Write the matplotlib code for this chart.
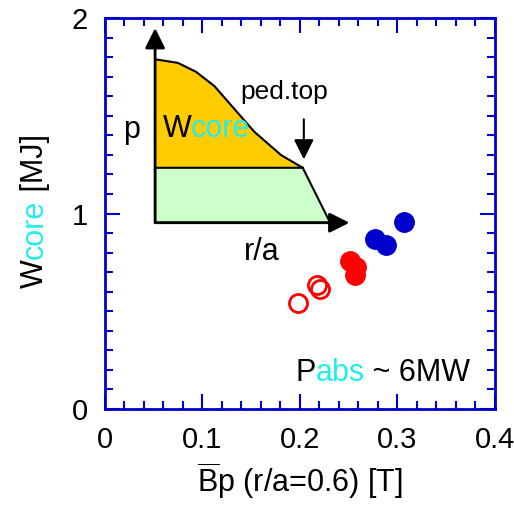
import matplotlib
matplotlib.use('Agg')
import matplotlib.pyplot as plt

plt.rcParams['font.family'] = ['Liberation Sans', 'DejaVu Sans']
plt.rcParams['mathtext.fontset'] = 'custom'
plt.rcParams['mathtext.rm'] = 'Liberation Sans'

# measured points
bp_blue = [0.307, 0.277, 0.288]
w_blue = [0.958, 0.868, 0.840]
bp_red = [0.2515, 0.258, 0.256]
w_red = [0.759, 0.728, 0.685]
bp_open = [0.1985, 0.2176, 0.2207]
w_open = [0.540, 0.634, 0.612]

# inset sketch: pressure profile above the pedestal
prof_x = [0.0515, 0.0747, 0.0935, 0.1123, 0.1277, 0.1533, 0.1807, 0.2029]
prof_y = [1.789, 1.771, 1.725, 1.652, 1.564, 1.418, 1.299, 1.234]
ped_x = [0.0515, 0.2029, 0.231, 0.0515]
ped_y = [1.234, 1.234, 0.953, 0.953]

BLUE = '#0000cc'
CYAN = '#22eeee'
FS = 22

fig = plt.figure(figsize=(5.14, 5.09), dpi=100)
ax = fig.add_axes([0.204, 0.1965, 0.759, 0.768])

# inset drawing
ax.fill_between(prof_x, prof_y, ped_y[0], color='#ffcc00', lw=0)
ax.plot(prof_x, prof_y, color='k', lw=1.5)
ax.fill(ped_x, ped_y, facecolor='#ccffcc', edgecolor='k', lw=1.5)
arr = dict(arrowstyle='-|>,head_length=0.9,head_width=0.45', lw=2, color='k',
           mutation_scale=13.5, shrinkA=0, shrinkB=0)
ax.annotate('', xy=(0.0515, 1.949), xytext=(0.0515, 0.953), arrowprops=arr)
ax.annotate('', xy=(0.2508, 0.953), xytext=(0.0515, 0.953), arrowprops=arr)
arr2 = dict(arr, lw=1.5)
ax.annotate('', xy=(0.204, 1.277), xytext=(0.204, 1.482), arrowprops=arr2)
ax.text(0.184, 1.623, 'ped.top', fontsize=19, ha='center', va='center')
ax.text(0.027, 1.427, 'p', fontsize=FS, ha='center', va='center')
ax.text(0.161, 0.805, 'r/a', fontsize=FS, ha='center', va='center')
t = ax.text(0.059, 1.43, 'W', fontsize=FS, ha='left', va='center')
ax.annotate('core', xy=(1, 0.5), xycoords=t, fontsize=FS, color=CYAN,
            ha='left', va='center')

# data
ax.plot(bp_open, w_open, 'o', ms=13, mfc='none', mec='red', mew=2)
ax.plot(bp_red, w_red, 'o', ms=14, color='red')
ax.plot(bp_blue, w_blue, 'o', ms=14, color=BLUE)

# Pabs annotation
t1 = ax.text(0.195, 0.184, 'P', fontsize=FS, ha='left', va='center')
t2 = ax.annotate('abs', xy=(1, 0.5), xycoords=t1, fontsize=FS, color=CYAN,
                 ha='left', va='center')
ax.annotate(' ~ 6MW', xy=(1, 0.5), xycoords=t2, fontsize=FS,
            ha='left', va='center')

ax.set_xlim(0, 0.4)
ax.set_ylim(0, 2)
ax.set_xticks([0, 0.1, 0.2, 0.3, 0.4])
ax.set_xticklabels(['0', '0.1', '0.2', '0.3', '0.4'])
ax.set_yticks([0, 1, 2])
ax.set_xticks([i * 0.02 for i in range(21)], minor=True)
ax.set_yticks([i * 0.1 for i in range(21)], minor=True)
ax.tick_params(which='both', direction='in', top=True, right=True,
               color=BLUE, width=1.5, labelsize=21)
ax.tick_params(which='major', length=11, pad=12)
ax.tick_params(which='minor', length=6)
for s in ax.spines.values():
    s.set_color(BLUE)
    s.set_linewidth(2)

ax.set_xlabel(r'$\overline{\mathrm{B}}$p (r/a=0.6) [T]', fontsize=FS, labelpad=5)

# ylabel in pieces
y1 = fig.text(0.068, 0.435, 'W', fontsize=FS, rotation=90, ha='center', va='bottom')
y2 = ax.annotate('core', xy=(0.5, 1), xycoords=y1, fontsize=FS, color=CYAN,
                 rotation=90, ha='center', va='bottom', annotation_clip=False)
ax.annotate(' [MJ]', xy=(0.5, 1), xycoords=y2, fontsize=FS, rotation=90,
            ha='center', va='bottom', annotation_clip=False)

fig.savefig('out.png', dpi=100)
